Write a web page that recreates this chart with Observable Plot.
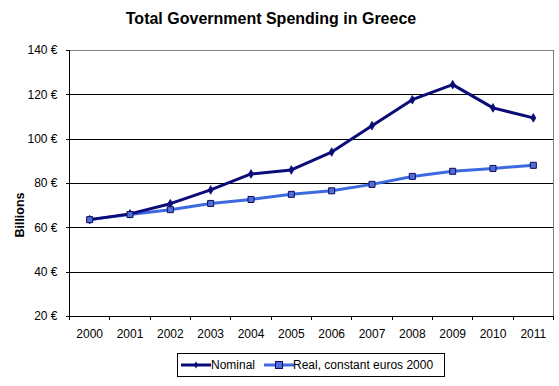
<!DOCTYPE html>
<html><head><meta charset="utf-8">
<script src="https://cdn.jsdelivr.net/npm/d3@7"></script>
<script src="https://cdn.jsdelivr.net/npm/@observablehq/plot@0.6"></script>
<style>
body{margin:0;background:#fff;font-family:Arial,"Liberation Sans",sans-serif;}
#wrap{position:relative;width:559px;height:386px;overflow:hidden;}
#title{position:absolute;left:0;top:10px;width:542px;text-align:center;font-weight:bold;font-size:16px;line-height:18px;color:#000;}
#ylab{position:absolute;left:20px;top:215px;transform:translate(-50%,-50%) rotate(-90deg);font-weight:bold;font-size:12.5px;white-space:nowrap;color:#000;}
#chart{position:absolute;left:0;top:0;}
#legend{position:absolute;left:177px;top:353px;width:268px;height:24px;box-sizing:border-box;border:1px solid #000;font-size:12px;background:#fff;}
#legend .sw{position:absolute;top:6px;}
#legend .tx{position:absolute;top:4px;line-height:14px;white-space:nowrap;}
</style>
</head><body>
<div id="wrap">
  <div id="chart"></div>
  <div id="title"></div>
  <div id="ylab"></div>
  <div id="legend"></div>
</div>
<script>
const title = "Total Government Spending in Greece";
const yLabel = "Billions";
const years = [2000, 2001, 2002, 2003, 2004, 2005, 2006, 2007, 2008, 2009, 2010, 2011];
const nominal = [63.7, 66.3, 70.9, 77.1, 84.3, 86.1, 94.2, 106.1, 117.8, 124.6, 114.1, 109.6];
const real = [63.7, 66.0, 68.2, 71.0, 72.8, 75.1, 76.7, 79.6, 83.2, 85.5, 86.8, 88.2];
const yTicks = [20, 40, 60, 80, 100, 120, 140];
const seriesNames = ["Nominal", "Real, constant euros 2000"];
const colors = {nominal: "#0c0c78", real: "#3d6ae0", realFill: "#4f6fd6", markerStroke: "#0c0c60"};

const nomData = years.map((y, i) => ({year: y, value: nominal[i]}));
const realData = years.map((y, i) => ({year: y, value: real[i]}));
const boundaries = years.map(y => y - 0.5).concat([years[years.length - 1] + 0.5]);

const crisp = {shapeRendering: "crispEdges"};
const chart = Plot.plot({
  width: 559,
  height: 350,
  marginLeft: 69,
  marginRight: 6,
  marginTop: 50,
  marginBottom: 34,
  style: {fontFamily: "Arial, 'Liberation Sans', sans-serif", fontSize: "12px", background: "transparent", color: "#000"},
  x: {type: "linear", domain: [boundaries[0], boundaries[boundaries.length - 1]]},
  y: {domain: [yTicks[0], yTicks[yTicks.length - 1]]},
  marks: [
    Plot.frame({stroke: "#808080", ...crisp}),
    Plot.gridY(yTicks.slice(1, -1), {stroke: "#000", strokeOpacity: 1, ...crisp}),
    Plot.ruleY([yTicks[0]], {stroke: "#000", ...crisp}),
    Plot.ruleX([boundaries[0]], {stroke: "#000", ...crisp}),
    Plot.axisY(yTicks, {tickSize: 3, tickPadding: 9, tickFormat: d => d + " €", label: null, stroke: "#000", fill: "#000", fontSize: 12, ...crisp}),
    Plot.axisX(boundaries, {tickSize: 4, tickFormat: () => "", label: null, stroke: "#000", ...crisp}),
    Plot.axisX(years, {tickSize: 0, tickPadding: 13, tickFormat: d => String(d), label: null, fill: "#000", fontSize: 12}),
    Plot.line(realData, {x: "year", y: "value", stroke: colors.real, strokeWidth: 3}),
    Plot.line(nomData, {x: "year", y: "value", stroke: colors.nominal, strokeWidth: 3}),
    Plot.dot(nomData, {x: "year", y: "value", symbol: "diamond", r: 2.6, fill: colors.nominal, stroke: colors.nominal, strokeWidth: 0.8}),
    Plot.dot(realData, {x: "year", y: "value", symbol: "square", r: 3.4, fill: colors.realFill, stroke: colors.markerStroke, strokeWidth: 1})
  ]
});
document.getElementById("chart").appendChild(chart);
document.getElementById("title").textContent = title;
document.getElementById("ylab").textContent = yLabel;

const legend = document.getElementById("legend");
legend.innerHTML = `
  <svg class="sw" style="left:3px" width="30" height="10"><line x1="0" y1="5" x2="30" y2="5" stroke="${colors.nominal}" stroke-width="3"/><path d="M15,1.5 L17.2,5 L15,8.5 L12.8,5 Z" fill="${colors.nominal}"/></svg>
  <span class="tx" style="left:33px"></span>
  <svg class="sw" style="left:86px" width="30" height="10"><line x1="0" y1="5" x2="30" y2="5" stroke="${colors.real}" stroke-width="3"/><rect x="11.5" y="1.5" width="7" height="7" fill="${colors.realFill}" stroke="${colors.markerStroke}" stroke-width="1"/></svg>
  <span class="tx" style="left:115px"></span>`;
const txs = legend.querySelectorAll(".tx");
txs[0].textContent = seriesNames[0];
txs[1].textContent = seriesNames[1];
</script>
</body></html>
